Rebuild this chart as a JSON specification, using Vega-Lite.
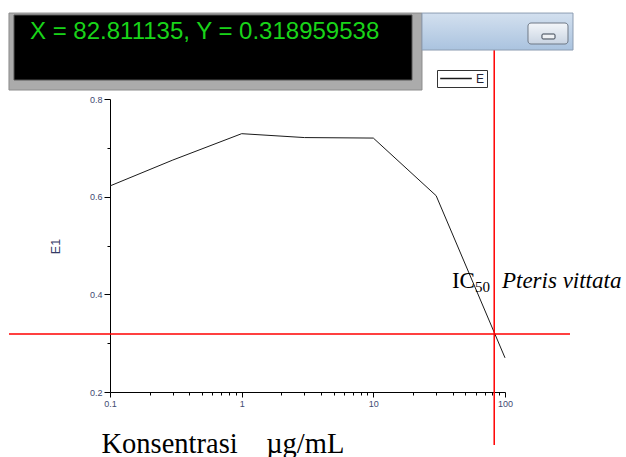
{
  "$schema": "https://vega.github.io/schema/vega-lite/v6.json",
  "width": 395,
  "height": 293,
  "autosize": {"type": "none"},
  "padding": {"left": 110, "top": 99, "right": 121, "bottom": 65},
  "background": "white",
  "config": {"view": {"stroke": null}, "font": "Liberation Sans"},
  "datasets": {
    "curve": [
      {"konsentrasi": 0.1, "E1": 0.622, "series": "E"},
      {"konsentrasi": 0.3, "E1": 0.675, "series": "E"},
      {"konsentrasi": 1, "E1": 0.729, "series": "E"},
      {"konsentrasi": 3, "E1": 0.721, "series": "E"},
      {"konsentrasi": 10, "E1": 0.72, "series": "E"},
      {"konsentrasi": 30, "E1": 0.602, "series": "E"},
      {"konsentrasi": 100, "E1": 0.27, "series": "E"}
    ],
    "crosshair": [
      {"X": 82.811135, "Y": 0.318959538, "xmin": 0.0171, "xmax": 311.6, "ymin": 0.0914, "ymax": 0.97}
    ],
    "chrome": [
      {"part": "frame", "x1": 0.01709, "x2": 23.42, "y1": 0.8184, "y2": 0.976},
      {"part": "screen", "x1": 0.01866, "x2": 19.66, "y1": 0.8389, "y2": 0.972},
      {"part": "bar", "x1": 23.42, "x2": 328.5, "y1": 0.9003, "y2": 0.976},
      {"part": "button", "x1": 149.5, "x2": 300.9, "y1": 0.9126, "y2": 0.9556},
      {"part": "dash", "x1": 190.9, "x2": 239.8, "y1": 0.9229, "y2": 0.9331}
    ],
    "readout": [
      {"text": "X = 82.811135, Y = 0.318959538", "x": 0.02469, "y": 0.9229}
    ],
    "annot": [
      {"label": "IC", "x": 39.5, "y": 0.413},
      {"label": "50", "x": 59.2, "y": 0.4048},
      {"label": "Pteris vittata", "x": 94.8, "y": 0.413}
    ]
  },
  "layer": [
    {
      "data": {"name": "curve"},
      "mark": {"type": "line", "strokeWidth": 1, "clip": false},
      "encoding": {
        "x": {
          "field": "konsentrasi",
          "type": "quantitative",
          "scale": {"type": "log", "domain": [0.1, 100], "nice": false},
          "axis": {
            "values": [0.1,0.2,0.3,0.4,0.5,0.6,0.7,0.8,0.9,1,2,3,4,5,6,7,8,9,10,20,30,40,50,60,70,80,90,100],
            "labelExpr": "datum.value == 0.1 ? '0.1' : (datum.value == 1 || datum.value == 10 || datum.value == 100) ? format(datum.value, 'd') : ''",
            "tickSize": {"condition": {"test": "datum.value == 0.1 || datum.value == 1 || datum.value == 10 || datum.value == 100", "value": 5}, "value": 3},
            "tickColor": "black",
            "domainColor": "black",
            "grid": false,
            "labelFontSize": 9,
            "labelColor": "#3f4a72",
            "labelPadding": 2,
            "labelFlush": false,
            "labelOverlap": false,
            "title": "Konsentrasi\u00a0\u00a0\u00a0 µg/mL",
            "titleFont": "Liberation Serif",
            "titleFontSize": 28.5,
            "titleFontWeight": "normal",
            "titleColor": "black",
            "titleAnchor": "start",
            "titleAlign": "left",
            "titleBaseline": "alphabetic",
            "titleX": -9,
            "titleY": 60
          }
        },
        "y": {
          "field": "E1",
          "type": "quantitative",
          "scale": {"domain": [0.2, 0.8], "zero": false, "nice": false},
          "axis": {
            "values": [0.2,0.3,0.4,0.5,0.6,0.7,0.8],
            "labelExpr": "(datum.value == 0.2 || datum.value == 0.4 || datum.value == 0.6 || datum.value == 0.8) ? format(datum.value, '.1f') : ''",
            "tickSize": {"condition": {"test": "datum.value == 0.2 || datum.value == 0.4 || datum.value == 0.6 || datum.value == 0.8", "value": 6}, "value": 3},
            "tickColor": "black",
            "domainColor": "black",
            "grid": false,
            "labelFontSize": 9,
            "labelColor": "#3f4a72",
            "labelPadding": 2,
            "labelFlush": false,
            "labelOverlap": false,
            "title": "E1",
            "titleFontSize": 12.5,
            "titleFontWeight": "normal",
            "titleColor": "#333a66",
            "titleAlign": "center",
            "titleBaseline": "bottom",
            "titleX": -48,
            "titleY": 147
          }
        },
        "color": {
          "field": "series",
          "type": "nominal",
          "scale": {"domain": ["E"], "range": ["#1a1a1a"]},
          "legend": {
            "orient": "none",
            "legendX": 327,
            "legendY": -29,
            "title": null,
            "symbolType": "stroke",
            "symbolSize": 1000,
            "symbolStrokeWidth": 1.5,
            "clipHeight": 13,
            "labelFontSize": 12,
            "labelColor": "#223",
            "labelOffset": 3,
            "strokeColor": "#333",
            "fillColor": "white",
            "padding": 2
          }
        }
      }
    },
    {
      "data": {"name": "crosshair"},
      "mark": {"type": "rule", "color": "#ff0000", "strokeWidth": 1.5, "clip": false},
      "encoding": {
        "y": {"field": "Y", "type": "quantitative"},
        "x": {"field": "xmin", "type": "quantitative"},
        "x2": {"field": "xmax"}
      }
    },
    {
      "data": {"name": "crosshair"},
      "mark": {"type": "rule", "color": "#ff0000", "strokeWidth": 1.5, "clip": false},
      "encoding": {
        "x": {"field": "X", "type": "quantitative"},
        "y": {"field": "ymin", "type": "quantitative"},
        "y2": {"field": "ymax"}
      }
    },
    {
      "data": {"name": "chrome"},
      "transform": [{"filter": "datum.part == 'frame'"}],
      "mark": {"type": "rect", "fill": "#ababab", "stroke": "#8c8c8c", "strokeWidth": 1, "clip": false},
      "encoding": {
        "x": {"field": "x1", "type": "quantitative"},
        "x2": {"field": "x2"},
        "y": {"field": "y1", "type": "quantitative"},
        "y2": {"field": "y2"}
      }
    },
    {
      "data": {"name": "chrome"},
      "transform": [{"filter": "datum.part == 'screen'"}],
      "mark": {"type": "rect", "fill": "black", "stroke": "#555", "strokeWidth": 1, "clip": false},
      "encoding": {
        "x": {"field": "x1", "type": "quantitative"},
        "x2": {"field": "x2"},
        "y": {"field": "y1", "type": "quantitative"},
        "y2": {"field": "y2"}
      }
    },
    {
      "data": {"name": "chrome"},
      "transform": [{"filter": "datum.part == 'bar'"}],
      "mark": {
        "type": "rect",
        "clip": false,
        "stroke": "#8d9db2",
        "strokeWidth": 1,
        "fill": {"gradient": "linear", "x1": 0, "y1": 0, "x2": 0, "y2": 1, "stops": [{"offset": 0, "color": "#d3e0ef"}, {"offset": 1, "color": "#aac3df"}]}
      },
      "encoding": {
        "x": {"field": "x1", "type": "quantitative"},
        "x2": {"field": "x2"},
        "y": {"field": "y1", "type": "quantitative"},
        "y2": {"field": "y2"}
      }
    },
    {
      "data": {"name": "chrome"},
      "transform": [{"filter": "datum.part == 'button'"}],
      "mark": {
        "type": "rect",
        "clip": false,
        "cornerRadius": 3,
        "stroke": "#6f7986",
        "strokeWidth": 1,
        "fill": {"gradient": "linear", "x1": 0, "y1": 0, "x2": 0, "y2": 1, "stops": [{"offset": 0, "color": "#f3f6fa"}, {"offset": 1, "color": "#c9d4e2"}]}
      },
      "encoding": {
        "x": {"field": "x1", "type": "quantitative"},
        "x2": {"field": "x2"},
        "y": {"field": "y1", "type": "quantitative"},
        "y2": {"field": "y2"}
      }
    },
    {
      "data": {"name": "chrome"},
      "transform": [{"filter": "datum.part == 'dash'"}],
      "mark": {"type": "rect", "clip": false, "cornerRadius": 1, "fill": "#eef1f5", "stroke": "#3b4452", "strokeWidth": 1},
      "encoding": {
        "x": {"field": "x1", "type": "quantitative"},
        "x2": {"field": "x2"},
        "y": {"field": "y1", "type": "quantitative"},
        "y2": {"field": "y2"}
      }
    },
    {
      "data": {"name": "readout"},
      "mark": {"type": "text", "clip": false, "align": "left", "baseline": "alphabetic", "font": "Liberation Sans", "fontSize": 24, "color": "#19d419"},
      "encoding": {
        "x": {"field": "x", "type": "quantitative"},
        "y": {"field": "y", "type": "quantitative"},
        "text": {"field": "text"}
      }
    },
    {
      "data": {"name": "annot"},
      "transform": [{"filter": "datum.label == 'IC'"}],
      "mark": {"type": "text", "clip": false, "align": "left", "baseline": "alphabetic", "font": "Liberation Serif", "fontSize": 23, "color": "black"},
      "encoding": {
        "x": {"field": "x", "type": "quantitative"},
        "y": {"field": "y", "type": "quantitative"},
        "text": {"field": "label"}
      }
    },
    {
      "data": {"name": "annot"},
      "transform": [{"filter": "datum.label == '50'"}],
      "mark": {"type": "text", "clip": false, "align": "left", "baseline": "alphabetic", "font": "Liberation Serif", "fontSize": 15, "color": "black"},
      "encoding": {
        "x": {"field": "x", "type": "quantitative"},
        "y": {"field": "y", "type": "quantitative"},
        "text": {"field": "label"}
      }
    },
    {
      "data": {"name": "annot"},
      "transform": [{"filter": "datum.label == 'Pteris vittata'"}],
      "mark": {"type": "text", "clip": false, "align": "left", "baseline": "alphabetic", "font": "Liberation Serif", "fontStyle": "italic", "fontSize": 23, "color": "black"},
      "encoding": {
        "x": {"field": "x", "type": "quantitative"},
        "y": {"field": "y", "type": "quantitative"},
        "text": {"field": "label"}
      }
    }
  ]
}
